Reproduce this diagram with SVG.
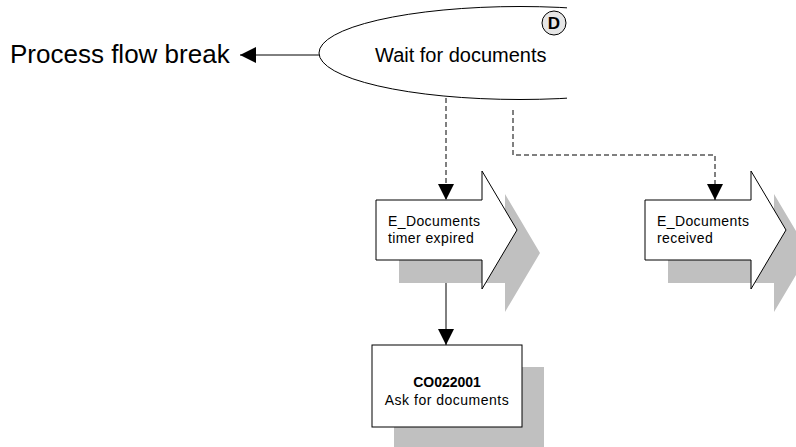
<svg xmlns="http://www.w3.org/2000/svg" width="796" height="447" viewBox="0 0 796 447">
  <style>
    text { font-family: "Liberation Sans", Arial, sans-serif; fill: #000; }
    .shadow { fill: #c0c0c0; stroke: none; }
    .shape { fill: #fff; stroke: #000; stroke-width: 1; }
    .lbl { font-size: 14px; letter-spacing: 0.4px; }
    .flow { stroke: #000; stroke-width: 1; fill: none; }
    .dash { stroke-dasharray: 5 3; }
  </style>
  <defs>
    <marker id="tri" viewBox="0 0 10 10" refX="10" refY="5" markerWidth="16" markerHeight="16" markerUnits="userSpaceOnUse" orient="auto">
      <path d="M0,0 L10,5 L0,10 Z" fill="#000"/>
    </marker>
    <clipPath id="stateClip">
      <rect x="0" y="0" width="567" height="447"/>
    </clipPath>
  </defs>

  <!-- connectors -->
  <g id="connectors">
    <line class="flow" x1="343" y1="55" x2="240" y2="55" stroke="#555" marker-end="url(#tri)"/>
    <path class="flow dash" d="M446,98 V200" marker-end="url(#tri)"/>
    <path class="flow dash" d="M513,110 V155 H715 V200" marker-end="url(#tri)"/>
    <path class="flow" d="M446,260 V345" marker-end="url(#tri)"/>
  </g>

  <!-- process flow break label -->
  <g id="flow-break">
    <text x="10" y="63" font-size="26">Process flow break</text>
  </g>

  <!-- wait state -->
  <g id="wait-state">
    <ellipse class="shape" cx="520" cy="53" rx="201" ry="46.5" clip-path="url(#stateClip)"/>
    <text x="375" y="62" font-size="20">Wait for documents</text>
    <circle cx="554" cy="23" r="12" fill="#e6e6e6" stroke="#000" stroke-width="1"/>
    <text x="554" y="29" font-size="17" font-weight="bold" text-anchor="middle">D</text>
  </g>

  <!-- event: timer expired -->
  <g id="event-timer">
    <polygon class="shadow" points="399,223 505,223 505,194 540,253 505,312 505,283 399,283"/>
    <polygon class="shape" points="376,200 482,200 482,171 517,230 482,289 482,260 376,260"/>
    <text class="lbl" x="388" y="226">E_Documents</text>
    <text class="lbl" x="388" y="243">timer expired</text>
  </g>

  <!-- event: received -->
  <g id="event-received">
    <polygon class="shadow" points="668,223 774,223 774,194 809,253 774,312 774,283 668,283"/>
    <polygon class="shape" points="645,200 751,200 751,171 786,230 751,289 751,260 645,260"/>
    <text class="lbl" x="657" y="226">E_Documents</text>
    <text class="lbl" x="657" y="243">received</text>
  </g>

  <!-- function box -->
  <g id="fn-ask">
    <rect class="shadow" x="394" y="367" width="150" height="82"/>
    <rect class="shape" x="372" y="345" width="150" height="82"/>
    <text x="447" y="387" font-size="14" font-weight="bold" text-anchor="middle">CO022001</text>
    <text x="447" y="405" font-size="14" letter-spacing="0.5" text-anchor="middle">Ask for documents</text>
  </g>
</svg>
